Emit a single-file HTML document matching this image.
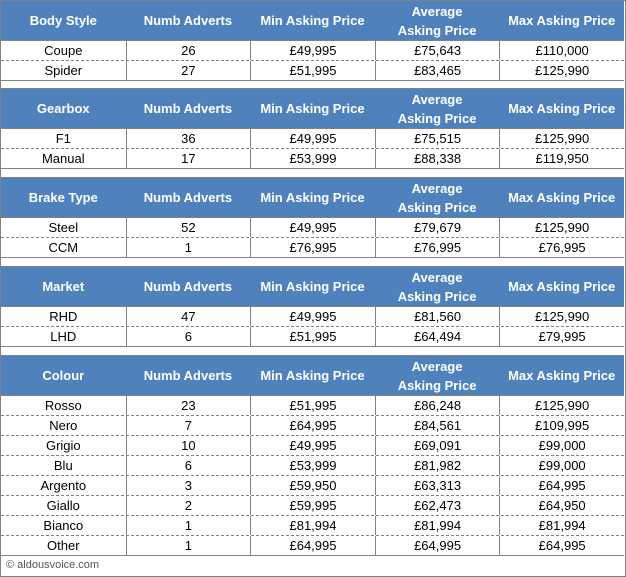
<!DOCTYPE html>
<html><head><style>
*{box-sizing:border-box;margin:0;padding:0}
body{width:626px;height:577px;background:#fff;position:relative;overflow:hidden;font-family:"Liberation Sans",sans-serif;font-size:13px;color:#000}
.frame{position:absolute;left:0;top:0;width:626px;height:577px;border:1px solid #808080}
.blk{position:absolute;left:1px;width:623px;border-top:1px solid #808080}
.hd{height:39px;background:#4F81BD;display:flex;color:#fff;font-weight:bold}
.hd div{width:125px;display:flex;align-items:center;justify-content:center;text-align:center;line-height:19px}
.r{height:20px;display:flex;border-top:1px dashed #808080}
.r.f{border-top:1px solid #808080}
.r.l{border-bottom:1px solid #808080;height:21px}
.r div{width:125px;text-align:center;line-height:19px}
.r div+div{border-left:1px solid #808080}
.ft{position:absolute;left:6px;top:559px;font-size:11px;color:#555}
</style></head><body>
<div class="frame"></div>

<div class="blk" style="top:0">
<div class="hd"><div>Body Style</div><div>Numb Adverts</div><div>Min Asking Price</div><div>Average<br>Asking Price</div><div>Max Asking Price</div></div>
<div class="r f"><div>Coupe</div><div>26</div><div>£49,995</div><div>£75,643</div><div>£110,000</div></div>
<div class="r l"><div>Spider</div><div>27</div><div>£51,995</div><div>£83,465</div><div>£125,990</div></div>
</div>

<div class="blk" style="top:88px">
<div class="hd"><div>Gearbox</div><div>Numb Adverts</div><div>Min Asking Price</div><div>Average<br>Asking Price</div><div>Max Asking Price</div></div>
<div class="r f"><div>F1</div><div>36</div><div>£49,995</div><div>£75,515</div><div>£125,990</div></div>
<div class="r l"><div>Manual</div><div>17</div><div>£53,999</div><div>£88,338</div><div>£119,950</div></div>
</div>

<div class="blk" style="top:177px">
<div class="hd"><div>Brake Type</div><div>Numb Adverts</div><div>Min Asking Price</div><div>Average<br>Asking Price</div><div>Max Asking Price</div></div>
<div class="r f"><div>Steel</div><div>52</div><div>£49,995</div><div>£79,679</div><div>£125,990</div></div>
<div class="r l"><div>CCM</div><div>1</div><div>£76,995</div><div>£76,995</div><div>£76,995</div></div>
</div>

<div class="blk" style="top:266px">
<div class="hd"><div>Market</div><div>Numb Adverts</div><div>Min Asking Price</div><div>Average<br>Asking Price</div><div>Max Asking Price</div></div>
<div class="r f"><div>RHD</div><div>47</div><div>£49,995</div><div>£81,560</div><div>£125,990</div></div>
<div class="r l"><div>LHD</div><div>6</div><div>£51,995</div><div>£64,494</div><div>£79,995</div></div>
</div>

<div class="blk" style="top:355px">
<div class="hd"><div>Colour</div><div>Numb Adverts</div><div>Min Asking Price</div><div>Average<br>Asking Price</div><div>Max Asking Price</div></div>
<div class="r f"><div>Rosso</div><div>23</div><div>£51,995</div><div>£86,248</div><div>£125,990</div></div>
<div class="r"><div>Nero</div><div>7</div><div>£64,995</div><div>£84,561</div><div>£109,995</div></div>
<div class="r"><div>Grigio</div><div>10</div><div>£49,995</div><div>£69,091</div><div>£99,000</div></div>
<div class="r"><div>Blu</div><div>6</div><div>£53,999</div><div>£81,982</div><div>£99,000</div></div>
<div class="r"><div>Argento</div><div>3</div><div>£59,950</div><div>£63,313</div><div>£64,995</div></div>
<div class="r"><div>Giallo</div><div>2</div><div>£59,995</div><div>£62,473</div><div>£64,950</div></div>
<div class="r"><div>Bianco</div><div>1</div><div>£81,994</div><div>£81,994</div><div>£81,994</div></div>
<div class="r l"><div>Other</div><div>1</div><div>£64,995</div><div>£64,995</div><div>£64,995</div></div>
</div>

<div class="ft">© aldousvoice.com</div>
</body></html>
